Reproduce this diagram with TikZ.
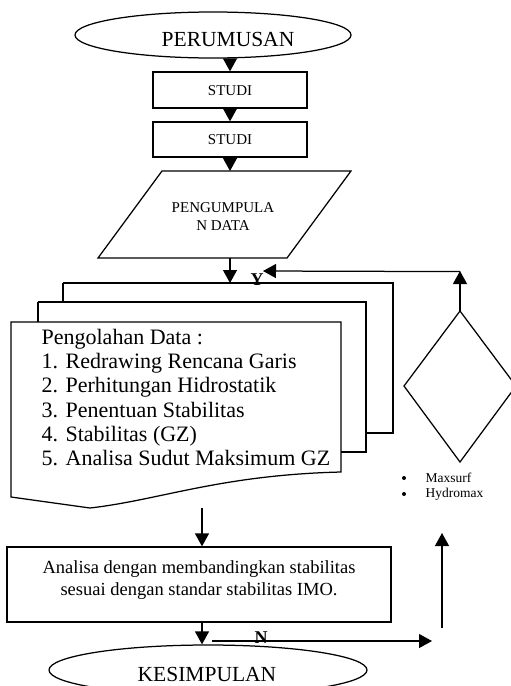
\documentclass[tikz,border=0pt]{standalone}
\usepackage{fontspec}
\setmainfont{Liberation Serif}
\usetikzlibrary{arrows.meta,shapes.geometric}
\begin{document}
\begin{tikzpicture}[x=1pt,y=-1pt,line width=1.25pt,
  tri/.style={-{Triangle[width=14pt,length=13pt]}},
  boxed/.style={draw,rectangle,inner sep=0pt},
  oval/.style={draw,ellipse,inner sep=0pt},
  bigtxt/.style={font=\fontsize{21.5}{24}\selectfont,inner sep=0pt},
  listtxt/.style={font=\fontsize{22}{24}\selectfont,inner sep=0pt},
  smalltxt/.style={font=\fontsize{15}{18}\selectfont,inner sep=0pt},
  midtxt/.style={font=\fontsize{18.5}{22}\selectfont,inner sep=0pt},
  tinytxt/.style={font=\fontsize{13.5}{15}\selectfont,inner sep=0pt},
  yntxt/.style={font=\fontsize{18}{20}\selectfont\bfseries,inner sep=0pt}]
\useasboundingbox (0,0) rectangle (511,686);

% top terminator
\node[oval,minimum width=276pt,minimum height=46pt] (per) at (213,35) {};
\node[bigtxt,anchor=base] (pertxt) at (228,46) {PERUMUSAN};

% studi boxes
\node[boxed,minimum width=154pt,minimum height=36pt] (stud1) at (230,90) {};
\node[smalltxt,anchor=base] (stud1t) at (230,95) {STUDI};
\node[boxed,minimum width=154pt,minimum height=35pt] (stud2) at (230,139.5) {};
\node[smalltxt,anchor=base] (stud2t) at (230,144.5) {STUDI};

% parallelogram
\coordinate (pgtl) at (162,171);
\coordinate (pgtr) at (351,171);
\coordinate (pgbr) at (287,258);
\coordinate (pgbl) at (98,258);
\draw (pgtl) -- (pgtr) -- (pgbr) -- (pgbl) -- cycle;
\coordinate (pgtop) at (230,171);
\coordinate (pgbot) at (230,258);
\node[smalltxt,anchor=base] (pg1t) at (223,212) {PENGUMPULA};
\node[smalltxt,anchor=base] (pg2t) at (223,230) {N DATA};

% arrows top
\draw[tri] (stud1.north |- per.south) -- (stud1.north);
\draw[tri] (stud1.south) -- (stud2.north);
\draw[tri] (stud2.south) -- (pgtop);

% document stack
\draw (63,283) -- (393,283) -- (393,433) -- (366,433);
\draw (38,302) -- (366,302) -- (366,452) -- (341,452);
\draw (63,283) -- (63,302);
\draw (38,302) -- (38,322);
\draw (11,322) -- (341,322) -- (341,472) .. controls (220,475) and (160,500) .. (90,508) -- (11,497) -- cycle;
\coordinate (stacktop) at (230,283);
\node[yntxt,anchor=base] (ylab) at (257,285) {Y};
\draw[tri] (pgbot) -- (stacktop);

\node[listtxt,anchor=base west] (l0) at (41,344) {Pengolahan Data :};
\node[listtxt,anchor=base west] (n1) at (41,368) {1.};
\node[listtxt,anchor=base west] (l1) at (65,368) {Redrawing Rencana Garis};
\node[listtxt,anchor=base west] (n2) at (41,392.5) {2.};
\node[listtxt,anchor=base west] (l2) at (65,392.5) {Perhitungan Hidrostatik};
\node[listtxt,anchor=base west] (n3) at (41,417) {3.};
\node[listtxt,anchor=base west] (l3) at (65,417) {Penentuan Stabilitas};
\node[listtxt,anchor=base west] (n4) at (41,441.5) {4.};
\node[listtxt,anchor=base west] (l4) at (65,441.5) {Stabilitas (GZ)};
\node[listtxt,anchor=base west] (n5) at (41,465.5) {5.};
\node[listtxt,anchor=base west] (l5) at (65,465.5) {Analisa Sudut Maksimum GZ};

% decision diamond
\coordinate (dtop) at (460,311);
\coordinate (dright) at (516,386);
\coordinate (dbot) at (460,462);
\coordinate (dleft) at (404,386);
\draw (dtop) -- (dright) -- (dbot) -- (dleft) -- cycle;
\coordinate (corner) at (460,271);
\coordinate (yin) at (263,271);
\draw[tri] (dtop) -- (corner);
\draw[tri] (460,271.6) -- (yin);

% software list
\fill (404,478) circle (2pt);
\fill (404,494) circle (2pt);
\node[tinytxt,anchor=base west] (ms) at (425,482) {Maxsurf};
\node[tinytxt,anchor=base west] (hm) at (425,497.5) {Hydromax};

% analysis box
\node[boxed,minimum width=384pt,minimum height=75pt] (ana) at (199,584.5) {};
\node[midtxt,anchor=base] (ana1) at (199,573) {Analisa dengan membandingkan stabilitas};
\node[midtxt,anchor=base] (ana2) at (199,595) {sesuai dengan standar stabilitas IMO.};
\coordinate (docout) at (202,508);
\draw[tri] (docout) -- (ana.north -| docout);

% bottom terminator
\node[oval,minimum width=318pt,minimum height=50pt] (kes) at (208,670) {};
\node[bigtxt,anchor=base] (kestxt) at (207,681) {KESIMPULAN};
\draw[tri] (ana.south -| docout) -- (docout |- kes.north);

% N branch
\coordinate (nstart) at (212,641);
\coordinate (nend) at (432,641);
\node[yntxt,anchor=base] (nlab) at (261,643) {N};
\draw[tri] (nstart) -- (nend);
\coordinate (upstart) at (442,628);
\coordinate (upend) at (442,533);
\draw[tri] (upstart) -- (upend);
\end{tikzpicture}
\end{document}
